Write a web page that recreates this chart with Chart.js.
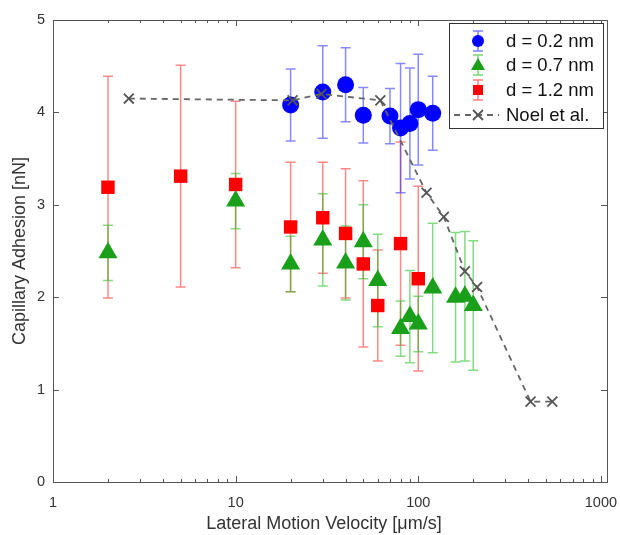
<!DOCTYPE html>
<html>
<head>
<meta charset="utf-8">
<script src="https://cdn.jsdelivr.net/npm/chart.js@4.4.0/dist/chart.umd.min.js"></script>
<style>
  body { margin: 0; background: #fff; }
  #wrap { width: 620px; height: 535px; position: relative; }
</style>
</head>
<body>
<div id="wrap"><canvas id="adhesionChart"></canvas></div>
<script>
// lateral velocity [um/s] and capillary adhesion [nN]
const vel02 = [20, 30, 40, 50, 70, 80, 90, 100, 120];
const adh02 = [4.08, 4.22, 4.30, 3.97, 3.96, 3.83, 3.88, 4.03, 3.99];
const err02 = [0.39, 0.50, 0.40, 0.30, 0.30, 0.70, 0.60, 0.60, 0.40];

const vel07 = [2, 10, 20, 30, 40, 50, 60, 80, 90, 100, 120, 160, 180, 200];
const adh07 = [2.48, 3.04, 2.36, 2.62, 2.37, 2.60, 2.18, 1.66, 1.79, 1.71, 2.10, 2.00, 2.01, 1.91];
const err07 = [0.30, 0.30, 0.30, 0.50, 0.40, 0.40, 0.50, 0.30, 0.50, 0.30, 0.70, 0.70, 0.70, 0.70];

const vel12 = [2, 5, 10, 20, 30, 40, 50, 60, 80, 100];
const adh12 = [3.19, 3.31, 3.22, 2.76, 2.86, 2.69, 2.36, 1.91, 2.58, 2.20];
const err12 = [1.20, 1.20, 0.90, 0.70, 0.60, 0.70, 0.90, 0.60, 1.10, 1.00];

const velNoel = [2.6, 20.5, 29.5, 62, 111, 138, 180, 210, 412, 542];
const adhNoel = [4.15, 4.13, 4.20, 4.13, 3.13, 2.87, 2.28, 2.11, 0.87, 0.87];

const xTicks = [1, 10, 100, 1000];
const yTicks = [0, 1, 2, 3, 4, 5];
const legendLabels = ['d = 0.2 nm', 'd = 0.7 nm', 'd = 1.2 nm', 'Noel et al.'];

const FONT = '"Liberation Sans", Arial, sans-serif';
const BLUE = '#0000ff', GREEN = '#1a9f1a', RED = '#ff0000', GREY = '#666666';

function toPoints(xs, ys) {
  return xs.map((x, i) => ({ x: x, y: ys[i] }));
}

// error bars under the markers
const errorBars = {
  id: 'errorBars',
  beforeDatasetsDraw(chart) {
    const ctx = chart.ctx;
    const xs = chart.scales.x, ys = chart.scales.y;
    const sets = [
      [vel12, adh12, err12, 'rgba(255,40,40,0.55)'],
      [vel07, adh07, err07, 'rgba(30,190,30,0.55)'],
      [vel02, adh02, err02, 'rgba(40,40,255,0.55)']
    ];
    ctx.save();
    ctx.lineWidth = 1.5;
    sets.forEach(s => {
      ctx.strokeStyle = s[3];
      s[0].forEach((v, i) => {
        const px = xs.getPixelForValue(v);
        const top = ys.getPixelForValue(s[1][i] + s[2][i]);
        const bot = ys.getPixelForValue(s[1][i] - s[2][i]);
        ctx.beginPath();
        ctx.moveTo(px, top); ctx.lineTo(px, bot);
        ctx.moveTo(px - 5, top); ctx.lineTo(px + 5, top);
        ctx.moveTo(px - 5, bot); ctx.lineTo(px + 5, bot);
        ctx.stroke();
      });
    });
    ctx.restore();
  }
};

// matlab style box, inward ticks, labels and legend
const frame = {
  id: 'frame',
  afterDraw(chart) {
    const ctx = chart.ctx;
    const a = chart.chartArea;
    const xs = chart.scales.x, ys = chart.scales.y;
    ctx.save();
    ctx.strokeStyle = '#555';
    ctx.lineWidth = 1;
    ctx.strokeRect(Math.round(a.left) + 0.5, Math.round(a.top) + 0.5,
      Math.round(a.right - a.left), Math.round(a.bottom - a.top));

    ctx.beginPath();
    [1, 10, 100].forEach(d => {
      for (let k = 2; k <= 9; k++) {
        const px = Math.round(xs.getPixelForValue(k * d)) + 0.5;
        ctx.moveTo(px, a.bottom); ctx.lineTo(px, a.bottom - 3);
        ctx.moveTo(px, a.top); ctx.lineTo(px, a.top + 3);
      }
    });
    xTicks.forEach(v => {
      const px = Math.round(xs.getPixelForValue(v)) + 0.5;
      ctx.moveTo(px, a.bottom); ctx.lineTo(px, a.bottom - 6);
      ctx.moveTo(px, a.top); ctx.lineTo(px, a.top + 6);
    });
    yTicks.forEach(v => {
      const py = Math.round(ys.getPixelForValue(v)) + 0.5;
      ctx.moveTo(a.left, py); ctx.lineTo(a.left + 6, py);
      ctx.moveTo(a.right, py); ctx.lineTo(a.right - 6, py);
    });
    ctx.stroke();

    ctx.fillStyle = '#333';
    ctx.font = '14.5px ' + FONT;
    ctx.textAlign = 'center';
    ctx.textBaseline = 'top';
    xTicks.forEach(v => ctx.fillText(String(v), xs.getPixelForValue(v), a.bottom + 14));
    ctx.textAlign = 'right';
    ctx.textBaseline = 'middle';
    yTicks.forEach(v => ctx.fillText(String(v), a.left - 8, ys.getPixelForValue(v)));

    ctx.font = '18px ' + FONT;
    ctx.textAlign = 'center';
    ctx.textBaseline = 'middle';
    ctx.fillText('Lateral Motion Velocity [\u03bcm/s]', 324, 524);
    ctx.save();
    ctx.translate(20, 251);
    ctx.rotate(-Math.PI / 2);
    ctx.fillText('Capillary Adhesion [nN]', 0, 0);
    ctx.restore();

    // legend
    ctx.fillStyle = '#fff';
    ctx.fillRect(449.5, 23.5, 154, 105);
    ctx.strokeStyle = '#333';
    ctx.strokeRect(449.5, 23.5, 154, 105);
    const rows = [41, 65, 90, 115];
    const mx = 478;
    const barCols = ['rgba(40,40,255,0.6)', 'rgba(30,190,30,0.6)', 'rgba(255,40,40,0.6)'];
    ctx.lineWidth = 1.5;
    for (let i = 0; i < 3; i++) {
      const y = rows[i];
      ctx.strokeStyle = barCols[i];
      ctx.beginPath();
      ctx.moveTo(mx, y - 10); ctx.lineTo(mx, y + 10);
      ctx.moveTo(mx - 5, y - 10); ctx.lineTo(mx + 5, y - 10);
      ctx.moveTo(mx - 5, y + 10); ctx.lineTo(mx + 5, y + 10);
      ctx.stroke();
    }
    ctx.fillStyle = BLUE;
    ctx.beginPath(); ctx.arc(mx, rows[0], 6, 0, Math.PI * 2); ctx.fill();
    ctx.fillStyle = GREEN;
    ctx.beginPath();
    ctx.moveTo(mx, rows[1] - 7); ctx.lineTo(mx + 7, rows[1] + 5); ctx.lineTo(mx - 7, rows[1] + 5);
    ctx.closePath(); ctx.fill();
    ctx.fillStyle = RED;
    ctx.fillRect(mx - 5, rows[2] - 5, 10, 10);
    ctx.strokeStyle = GREY;
    ctx.lineWidth = 1.8;
    ctx.setLineDash([6, 5]);
    ctx.beginPath(); ctx.moveTo(454, rows[3]); ctx.lineTo(499, rows[3]); ctx.stroke();
    ctx.setLineDash([]);
    ctx.strokeStyle = '#555';
    ctx.beginPath();
    ctx.moveTo(mx - 5, rows[3] - 5); ctx.lineTo(mx + 5, rows[3] + 5);
    ctx.moveTo(mx + 5, rows[3] - 5); ctx.lineTo(mx - 5, rows[3] + 5);
    ctx.stroke();

    ctx.fillStyle = '#111';
    ctx.font = '18.5px ' + FONT;
    ctx.textAlign = 'left';
    ctx.textBaseline = 'middle';
    legendLabels.forEach((t, i) => ctx.fillText(t, 506, rows[i] + 1));
    ctx.restore();
  }
};

const ctx = document.getElementById('adhesionChart').getContext('2d');
new Chart(ctx, {
  type: 'scatter',
  data: {
    datasets: [
      {
        label: legendLabels[3],
        data: toPoints(velNoel, adhNoel),
        showLine: true,
        borderColor: GREY,
        borderWidth: 1.8,
        borderDash: [6, 5],
        pointStyle: 'crossRot',
        pointRadius: 7,
        pointBorderColor: '#555',
        pointBorderWidth: 1.8,
        backgroundColor: 'transparent'
      },
      {
        label: legendLabels[0],
        data: toPoints(vel02, adh02),
        pointStyle: 'circle',
        pointRadius: 8.5,
        backgroundColor: BLUE,
        borderColor: BLUE,
        borderWidth: 0
      },
      {
        label: legendLabels[1],
        data: toPoints(vel07, adh07),
        pointStyle: 'triangle',
        pointRadius: 11,
        backgroundColor: GREEN,
        borderColor: GREEN,
        borderWidth: 0
      },
      {
        label: legendLabels[2],
        data: toPoints(vel12, adh12),
        pointStyle: 'rect',
        pointRadius: 9.5,
        backgroundColor: RED,
        borderColor: RED,
        borderWidth: 0
      }
    ]
  },
  options: {
    responsive: true,
    maintainAspectRatio: false,
    animation: false,
    layout: { padding: { left: 53, top: 20, right: 13, bottom: 53 } },
    scales: {
      x: { type: 'logarithmic', min: 1, max: 1080, display: false },
      y: { type: 'linear', min: 0, max: 5, display: false }
    },
    plugins: {
      legend: { display: false },
      tooltip: { enabled: false }
    }
  },
  plugins: [errorBars, frame]
});
</script>
</body>
</html>
